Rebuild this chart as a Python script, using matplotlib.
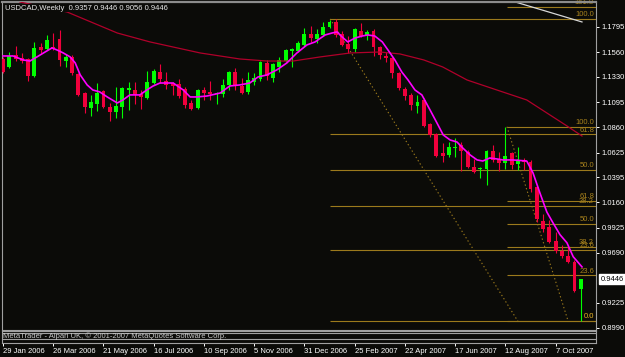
import matplotlib
matplotlib.use('Agg')
import matplotlib.pyplot as plt
import numpy as np

plt.rcParams['font.family'] = ['Liberation Sans', 'DejaVu Sans']

# ---------------- data ----------------
symbol = "USDCAD"
timeframe = "Weekly"

opens = [1.1497, 1.1423, 1.1534, 1.1506, 1.1497, 1.1339, 1.1609, 1.1590, 1.1609, 1.1684,
         1.1478, 1.1516, 1.1357, 1.1180, 1.1041, 1.1078, 1.1199, 1.1050, 1.1003, 1.1050,
         1.1208, 1.1208, 1.1171, 1.1134, 1.1273, 1.1376, 1.1292, 1.1273, 1.1264, 1.1218,
         1.1087, 1.1041, 1.1208, 1.1190, 1.1171, 1.1171, 1.1255, 1.1376, 1.1245, 1.1190,
         1.1283, 1.1311, 1.1460, 1.1320, 1.1423, 1.1478, 1.1572, 1.1572, 1.1628, 1.1730,
         1.1684, 1.1721, 1.1795, 1.1842, 1.1730, 1.1637, 1.1590, 1.1758, 1.1711, 1.1758,
         1.1609, 1.1525, 1.1506, 1.1367, 1.1218, 1.1162, 1.1059, 1.1115, 1.0891, 1.0798,
         1.0621, 1.0602, 1.0668, 1.0696, 1.0630, 1.0491, 1.0472, 1.0472, 1.0640, 1.0565,
         1.0528, 1.0621, 1.0519, 1.0556, 1.0537, 1.0304, 0.9987, 0.9931, 0.9801, 0.9708,
         0.9661, 0.9605, 0.9357]
highs = [1.1516, 1.1562, 1.1618, 1.1553, 1.1506, 1.1656, 1.1646, 1.1721, 1.1739, 1.1767,
         1.1544, 1.1534, 1.1367, 1.1190, 1.1162, 1.1273, 1.1208, 1.1087, 1.1236, 1.1236,
         1.1283, 1.1283, 1.1208, 1.1385, 1.1404, 1.1450, 1.1376, 1.1283, 1.1311, 1.1236,
         1.1115, 1.1218, 1.1236, 1.1292, 1.1190, 1.1311, 1.1385, 1.1413, 1.1320, 1.1376,
         1.1367, 1.1478, 1.1488, 1.1460, 1.1516, 1.1590, 1.1600, 1.1665, 1.1786, 1.1805,
         1.1777, 1.1842, 1.1861, 1.1870, 1.1758, 1.1711, 1.1786, 1.1833, 1.1767, 1.1777,
         1.1618, 1.1562, 1.1516, 1.1376, 1.1236, 1.1180, 1.1162, 1.1134, 1.0901, 1.0807,
         1.0714, 1.0723, 1.0761, 1.0723, 1.0649, 1.0565, 1.0491, 1.0649, 1.0696, 1.0630,
         1.0863, 1.0630, 1.0677, 1.0574, 1.0556, 1.0323, 1.0053, 0.9997, 0.9885, 0.9764,
         0.9764, 0.9624, 0.9446]
lows = [1.1367, 1.1413, 1.1478, 1.1460, 1.1292, 1.1329, 1.1553, 1.1581, 1.1581, 1.1432,
        1.1423, 1.1348, 1.1152, 1.0994, 1.0966, 1.1013, 1.1041, 1.0919, 1.0947, 1.0947,
        1.1022, 1.1078, 1.1031, 1.1124, 1.1264, 1.1273, 1.1218, 1.1162, 1.1134, 1.1041,
        1.1022, 1.1031, 1.1115, 1.1115, 1.1078, 1.1143, 1.1208, 1.1208, 1.1171, 1.1171,
        1.1255, 1.1292, 1.1301, 1.1283, 1.1376, 1.1469, 1.1423, 1.1562, 1.1618, 1.1656,
        1.1646, 1.1711, 1.1786, 1.1702, 1.1618, 1.1553, 1.1562, 1.1702, 1.1674, 1.1525,
        1.1497, 1.1469, 1.1320, 1.1208, 1.1115, 1.1022, 1.0994, 1.0863, 1.0770, 1.0584,
        1.0537, 1.0584, 1.0584, 1.0453, 1.0481, 1.0435, 1.0388, 1.0323, 1.0537, 1.0453,
        1.0472, 1.0472, 1.0463, 1.0463, 1.0257, 0.9978, 0.9885, 0.9782, 0.9689, 0.9642,
        0.9596, 0.9326, 0.9056]
closes = [1.1376, 1.1525, 1.1497, 1.1478, 1.1339, 1.1600, 1.1581, 1.1674, 1.1600, 1.1488,
          1.1516, 1.1367, 1.1162, 1.1050, 1.1096, 1.1180, 1.1050, 1.1003, 1.1059, 1.1227,
          1.1227, 1.1162, 1.1143, 1.1283, 1.1385, 1.1311, 1.1255, 1.1245, 1.1152, 1.1069,
          1.1031, 1.1208, 1.1180, 1.1171, 1.1180, 1.1255, 1.1376, 1.1245, 1.1180, 1.1301,
          1.1320, 1.1469, 1.1339, 1.1450, 1.1488, 1.1581, 1.1590, 1.1646, 1.1730, 1.1693,
          1.1730, 1.1795, 1.1842, 1.1721, 1.1628, 1.1590, 1.1777, 1.1711, 1.1749, 1.1609,
          1.1534, 1.1506, 1.1367, 1.1227, 1.1152, 1.1069, 1.1096, 1.0873, 1.0789, 1.0593,
          1.0593, 1.0677, 1.0677, 1.0640, 1.0491, 1.0444, 1.0481, 1.0640, 1.0556, 1.0528,
          1.0593, 1.0509, 1.0556, 1.0537, 1.0286, 1.0006, 0.9913, 0.9792, 0.9708, 0.9661,
          0.9605, 0.9335, 0.9446]

# fast moving average (magenta), read at bar positions
fast_idx = [0, 1.6, 3.2, 4.3, 5.4, 6.7, 7.8, 8.6, 9.6, 10.7, 11.5, 12.3, 13.4, 14.3, 15.4,
            16.6, 18.2, 19.1, 20.2, 21.8, 22.9, 23.9, 25.0, 27.1, 28.7, 29.8, 30.9, 32.5,
            34.6, 36.1, 37.7, 39.3, 40.6, 42.0, 43.6, 45.2, 46.8, 48.4, 49.7, 51.3, 52.4,
            53.2, 54.0, 54.9, 56.1, 57.2, 58.1, 59.2, 60.4, 61.3, 62.4, 63.5, 64.5, 65.6,
            66.7, 68.0, 69.1, 70.1, 71.2, 72.3, 73.2, 74.4, 75.5, 76.4, 77.5, 78.7, 79.6,
            81.2, 83.4, 84.4, 85.5, 86.6, 87.6, 88.7, 89.8, 90.8, 92.2]
fast_val = [1.1525, 1.1525, 1.1488, 1.1478, 1.1516, 1.1562, 1.1600, 1.1581, 1.1553, 1.1516,
            1.1460, 1.1348, 1.1255, 1.1208, 1.1190, 1.1143, 1.1087, 1.1115, 1.1162, 1.1162,
            1.1208, 1.1245, 1.1273, 1.1273, 1.1208, 1.1143, 1.1143, 1.1152, 1.1180, 1.1245,
            1.1255, 1.1273, 1.1329, 1.1348, 1.1395, 1.1460, 1.1553, 1.1628, 1.1656, 1.1721,
            1.1739, 1.1749, 1.1702, 1.1656, 1.1693, 1.1711, 1.1721, 1.1711, 1.1656, 1.1581,
            1.1488, 1.1376, 1.1301, 1.1208, 1.1162, 1.1022, 1.0901, 1.0789, 1.0742, 1.0723,
            1.0668, 1.0602, 1.0556, 1.0546, 1.0574, 1.0565, 1.0556, 1.0556, 1.0546, 1.0435,
            1.0248, 1.0071, 0.9968, 0.9859, 0.9784, 0.9654, 0.9559]

# slow moving average (dark red)
slow_idx = [2.7, 10.2, 18.2, 23.4, 31.4, 37.7, 42.0, 46.2, 50.5, 55.3, 60.0, 63.2, 67.0,
            70.0, 73.9, 79.1, 83.4, 87.1, 89.8, 92.2]
slow_val = [1.2028, 1.1935, 1.1739, 1.1656, 1.1553, 1.1497, 1.1478, 1.1478, 1.1516, 1.1553,
            1.1562, 1.1544, 1.1488, 1.1423, 1.1301, 1.1199, 1.1115, 1.0975, 1.0873, 1.0779]

# Fibonacci retracements: (start bar, trend end bar, high, low, levels)
fib1_start, fib1_end, fib1_high, fib1_low = 52.1, 82.0, 1.1870, 0.9052
fib1_levels = [0.0, 23.6, 38.2, 50.0, 61.8, 100.0]
fib2_start, fib2_end, fib2_high, fib2_low = 80.25, 90.0, 1.0865, 0.9052
fib2_levels = [0.0, 23.6, 38.2, 50.0, 61.8, 100.0, 161.8]

# white trend line
trend_idx = [80.5, 92.2]
trend_val = [1.2047, 1.1842]

price_ticks = [1.1795, 1.1560, 1.1330, 1.1095, 1.0860, 1.0625, 1.0395, 1.0160, 0.9925,
               0.9690, 0.9225, 0.8990]
date_tick_idx = [0, 8, 16, 24, 32, 40, 48, 56, 64, 72, 80, 88]
date_labels = ["29 Jan 2006", "26 Mar 2006", "21 May 2006", "16 Jul 2006", "10 Sep 2006",
               "5 Nov 2006", "31 Dec 2006", "25 Feb 2007", "22 Apr 2007", "17 Jun 2007",
               "12 Aug 2007", "7 Oct 2007"]

# ---------------- style ----------------
BG = '#0b0b08'
GREEN = '#00ff00'
RED = '#f0003c'
MAGENTA = '#ff00ff'
SLOW = '#b0002a'
FIB = '#9c7a1c'
FIBTXT = '#a8821c'
FRAME = '#a0a0a0'
TXT = '#ffffff'
FS = 5.5

W, H = 625, 357
fig = plt.figure(figsize=(6.25, 3.57), dpi=100, facecolor=BG)


def px_rect(x0, y0, x1, y1):
    return [x0 / W, 1 - y1 / H, (x1 - x0) / W, (y1 - y0) / H]


XL = (-0.16, 94.43)
ax = fig.add_axes(px_rect(2, 2, 596, 330))
ax.set_facecolor(BG)
ax.set_xlim(*XL)
ax.set_ylim(0.8971, 1.2028)

o = np.array(opens); h = np.array(highs); l = np.array(lows); c = np.array(closes)
idx = np.arange(len(o))
up = c >= o
cols = np.where(up, GREEN, RED)

# Fibonacci objects
for start, end, hi, lo, levels in [(fib1_start, fib1_end, fib1_high, fib1_low, fib1_levels),
                                   (fib2_start, fib2_end, fib2_high, fib2_low, fib2_levels)]:
    for lv in levels:
        p = lo + lv / 100.0 * (hi - lo)
        ax.hlines(p, start, XL[1], color=FIB, lw=0.8, zorder=1)
        ax.annotate(f"{lv:.1f}", xy=((594 - 2) / 594, p), xycoords=('axes fraction', 'data'),
                    xytext=(0, 0.6), textcoords='offset points', ha='right', va='bottom',
                    fontsize=FS, color=FIBTXT, zorder=1)
    ax.plot([start, end], [hi, lo], color=FIB, lw=0.8, ls=(0, (1.2, 2.2)), zorder=1)

ax.plot(trend_idx, trend_val, color='#d8d8d8', lw=0.9, zorder=2)

# candles
ax.vlines(idx, l, h, colors=cols, lw=0.8, zorder=3)
bottoms = np.minimum(o, c)
heights = np.maximum(np.abs(c - o), 0.0008)
ax.bar(idx, heights, bottom=bottoms, width=0.62, color=cols, lw=0, zorder=3)

ax.plot(slow_idx, slow_val, color=SLOW, lw=0.9, zorder=4)
ax.plot(fast_idx, fast_val, color=MAGENTA, lw=1.2, zorder=5)

# axes styling
ax.set_xticks([])
ax.yaxis.tick_right()
ax.set_yticks(price_ticks)
ax.set_yticklabels([f"{p:.4f}" for p in price_ticks])
ax.tick_params(axis='y', colors=TXT, labelsize=FS, length=2, width=0.7, pad=2.2)
for s in ['left', 'bottom', 'right']:
    ax.spines[s].set_color(FRAME)
    ax.spines[s].set_linewidth(0.8)
ax.spines['top'].set_color('#8c8c8c')
ax.spines['top'].set_linewidth(1.6)

# title
ax.text(3 / 594, 1 - 6 / 328,
        f"{symbol},{timeframe}  {opens[-1]:.4f} {highs[-1]:.4f} {lows[-1]:.4f} {closes[-1]:.4f}",
        transform=ax.transAxes, ha='left', va='center', fontsize=FS, color='#e8e8e8',
        zorder=10, bbox=dict(fc=BG, ec='none', pad=0.6))

# current price label
ax.annotate(f"{closes[-1]:.4f}", xy=(1, closes[-1]), xycoords=('axes fraction', 'data'),
            xytext=(3.2, 0), textcoords='offset points', ha='left', va='center',
            fontsize=FS, color='black', annotation_clip=False,
            bbox=dict(boxstyle='square,pad=0.18', fc='white', ec='white'))

# bottom strip with date axis
axb = fig.add_axes(px_rect(2, 331, 596, 343))
axb.set_facecolor(BG)
axb.set_xlim(*XL)
axb.set_ylim(0, 1)
axb.set_yticks([])
axb.set_xticks(date_tick_idx)
axb.set_xticklabels(date_labels, ha='left')
axb.tick_params(axis='x', colors=TXT, labelsize=FS, length=2.5, width=0.7, pad=1.0)
for s in axb.spines.values():
    s.set_color(FRAME)
    s.set_linewidth(0.8)
for fy in [0.833, 0.375]:
    axb.axhline(fy, color=FRAME, lw=0.8)
axb.text(0.002, 0.6, "MetaTrader - Alpari UK, \u00a9 2001-2007 MetaQuotes Software Corp.",
         transform=axb.transAxes, ha='left', va='center', fontsize=FS, color='#c8c8c8')

fig.savefig('out.png', dpi=100, facecolor=BG)
